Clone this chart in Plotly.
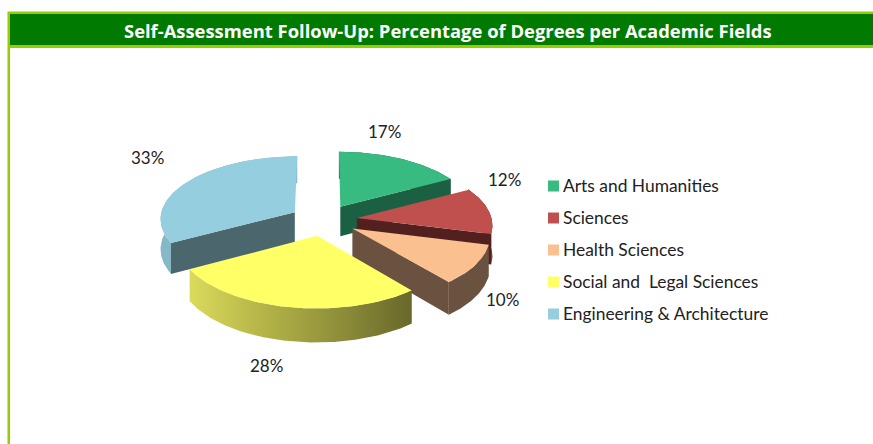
import numpy as np
import plotly.graph_objects as go

title = "Self-Assessment Follow-Up: Percentage of Degrees per Academic Fields"
categories = ["Arts and Humanities", "Sciences", "Health Sciences",
              "Social and  Legal Sciences", "Engineering & Architecture"]
values = [17, 12, 10, 28, 33]
value_labels = ["17%", "12%", "10%", "28%", "33%"]

top_colors = ["#38BB80", "#C0504D", "#FAC090", "#FFFF66", "#95CEDE"]
wall_colors = ["#1B6042", "#52211F", "#6B5240", "#4C666E", "#4C666E"]
side_gradients = [None, None, None,
                  ["#DADA5C", "#B4B448", "#8F8F3A", "#68682A"],
                  ["#86B8C8", "#86B8C8"]]
wall_end = [-1, -1, -1, None, 0]  # which radial cut of each slice faces the viewer
label_pos = [(384, 132), (504, 180), (502, 300), (266, 366), (147, 158)]

# pie geometry (pixel units)
CX, CY, R, K, A, EXPLODE, DEPTH = 323.5, 220, 135, 62.6, 0.095, 0.25, 30


def project(X, Y, z=0.0):
    s = 1 / (1 - A * Y)
    return CX + R * s * X, CY + K * s * Y + DEPTH * z * s


def wedge(t0, t1):
    mid = (t0 + t1) / 2
    ox, oy = EXPLODE * np.sin(mid), -EXPLODE * np.cos(mid)
    th = np.linspace(t0, t1, 90)
    return ox, oy, ox + np.sin(th), oy - np.cos(th)


fig = go.Figure()


def add_poly(xs, ys, color=None, gradient=None):
    kw = dict(x=list(xs), y=list(ys), mode="lines", fill="toself",
              line=dict(width=0), hoverinfo="skip", showlegend=False)
    if gradient:
        n = len(gradient) - 1
        kw["fillgradient"] = dict(type="horizontal",
                                  colorscale=[[i / n, c] for i, c in enumerate(gradient)])
    else:
        kw["fillcolor"] = color
    fig.add_trace(go.Scatter(**kw))


fractions = np.array(values) / sum(values)
edges = np.concatenate([[0], np.cumsum(fractions)]) * 2 * np.pi

for i in range(len(values)):
    ox, oy, ax, ay = wedge(edges[i], edges[i + 1])
    # outer side
    tx, ty = project(ax, ay)
    bx, by = project(ax, ay, 1)
    add_poly(np.r_[tx, bx[::-1]], np.r_[ty, by[::-1]], wall_colors[i], side_gradients[i])
    # radial cut wall
    if wall_end[i] is not None:
        s = np.linspace(0, 1, 12)
        wx = ox + s * (ax[wall_end[i]] - ox)
        wy = oy + s * (ay[wall_end[i]] - oy)
        tx2, ty2 = project(wx, wy)
        bx2, by2 = project(wx, wy, 1)
        add_poly(np.r_[tx2, bx2[::-1]], np.r_[ty2, by2[::-1]], wall_colors[i])
    # top surface
    px, py = project(np.r_[ox, ax], np.r_[oy, ay])
    add_poly(px, py, top_colors[i])

# legend swatches
legend_x = 553.5
legend_y = [186, 218, 250, 282, 314]
fig.add_trace(go.Scatter(x=[legend_x] * 5, y=legend_y, mode="markers",
                         marker=dict(symbol="square", size=11, color=top_colors, line=dict(width=0)),
                         hoverinfo="skip", showlegend=False))

ann = []
FONT = "Lato"
for c, y in zip(categories, legend_y):
    ann.append(dict(x=561, y=y - 0.5, text=c, xanchor="left", yanchor="middle", showarrow=False,
                    font=dict(family=FONT, size=17.4, color="#222222")))
for t, (x, y) in zip(value_labels, label_pos):
    ann.append(dict(x=x, y=y - 1, text=t, xanchor="center", yanchor="middle", showarrow=False,
                    font=dict(family=FONT, size=17, color="#222222")))
ann.append(dict(x=447.5, y=30, text="<b>" + title + "</b>", xanchor="center", yanchor="middle",
                showarrow=False, font=dict(family="Open Sans", size=18.4, color="white")))

shapes = [
    dict(type="rect", x0=7.5, x1=873, y0=11.5, y1=48, fillcolor="#99CC00", line=dict(width=0), layer="below"),
    dict(type="rect", x0=10, x1=873, y0=14, y1=45, fillcolor="#007A00", line=dict(width=0), layer="below"),
    dict(type="rect", x0=7.5, x1=10, y0=48, y1=444, fillcolor="#99CC00", line=dict(width=0), layer="below"),
]

fig.update_layout(
    width=873, height=444, margin=dict(l=0, r=0, t=0, b=0),
    paper_bgcolor="white", plot_bgcolor="white", showlegend=False,
    xaxis=dict(range=[0, 873], visible=False, fixedrange=True),
    yaxis=dict(range=[444, 0], visible=False, fixedrange=True),
    shapes=shapes, annotations=ann,
)
fig.write_html("out.html", config={"displayModeBar": False},
               post_script="document.body.style.margin='0';")
